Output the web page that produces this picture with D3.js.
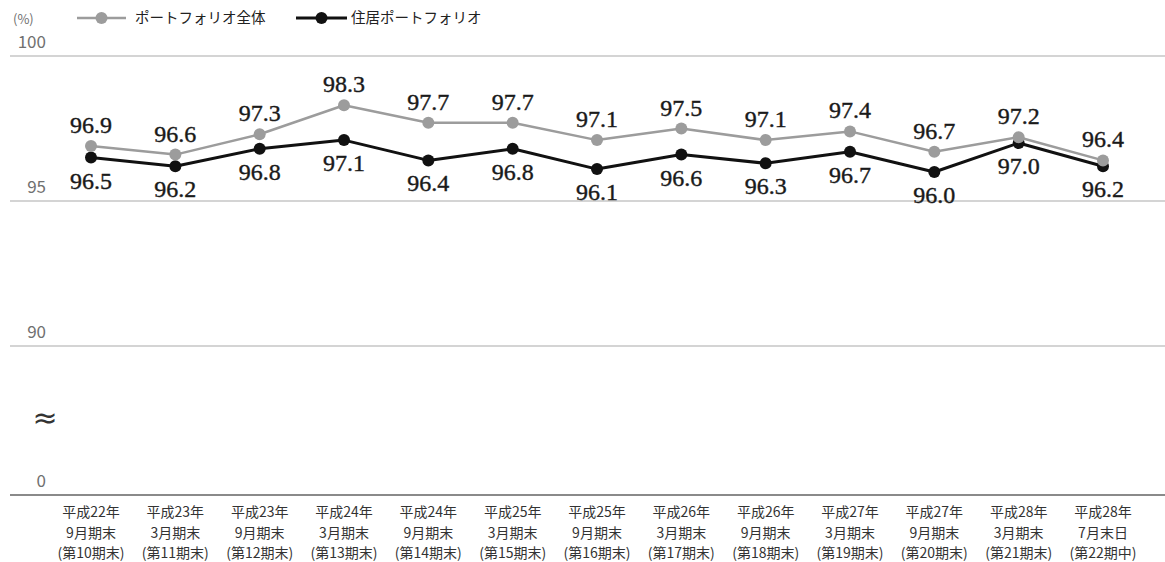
<!DOCTYPE html>
<html>
<head>
<meta charset="utf-8">
<script src="https://cdn.jsdelivr.net/npm/d3@7"></script>
<style>
  html, body { margin: 0; padding: 0; background: #fff; }
  svg { display: block; }
  .val { font-family: "Liberation Serif", "Times New Roman", Tinos, "DejaVu Serif", serif; }
</style>
</head>
<body>
<svg id="chart" width="1165" height="562"></svg>
<script>
// Occupancy rate by fiscal period (%)
const periodYear = ["平成22年","平成23年","平成23年","平成24年","平成24年","平成25年","平成25年","平成26年","平成26年","平成27年","平成27年","平成28年","平成28年"];
const periodMonth = ["9月期末","3月期末","9月期末","3月期末","9月期末","3月期末","9月期末","3月期末","9月期末","3月期末","9月期末","3月期末","7月末日"];
const periodTerm = ["(第10期末)","(第11期末)","(第12期末)","(第13期末)","(第14期末)","(第15期末)","(第16期末)","(第17期末)","(第18期末)","(第19期末)","(第20期末)","(第21期末)","(第22期中)"];
const portfolioAll = [96.9, 96.6, 97.3, 98.3, 97.7, 97.7, 97.1, 97.5, 97.1, 97.4, 96.7, 97.2, 96.4];
const portfolioResidential = [96.5, 96.2, 96.8, 97.1, 96.4, 96.8, 96.1, 96.6, 96.3, 96.7, 96.0, 97.0, 96.2];
const yTicks = [0, 90, 95, 100];
const seriesNames = ["ポートフォリオ全体", "住居ポートフォリオ"];

const svg = d3.select("#chart");
const sans = "'Noto Sans CJK JP', 'Noto Sans', sans-serif";

const idx = d3.range(periodYear.length);
const x = d3.scalePoint().domain(idx).range([91, 1103]).padding(0);
// broken axis: 0 .. (gap) .. 90 .. 100
const y = d3.scaleLinear().domain([0, 90, 100]).range([495, 346, 56]);

// gridlines
svg.append("g").selectAll("line").data(yTicks.filter(d => d > 0)).join("line")
  .attr("x1", 10).attr("x2", 1165)
  .attr("y1", d => y(d)).attr("y2", d => y(d))
  .attr("stroke", "#d4d4d4").attr("stroke-width", 2);
// baseline
svg.append("line").attr("x1", 10).attr("x2", 1165)
  .attr("y1", y(0)).attr("y2", y(0))
  .attr("stroke", "#8a8a8a").attr("stroke-width", 2);

// tick labels
svg.append("g").selectAll("text").data(yTicks).join("text")
  .attr("x", 46).attr("y", d => y(d) - 8)
  .attr("text-anchor", "end")
  .attr("font-family", sans).attr("font-size", 17)
  .attr("fill", "#707070")
  .text(d => d);

svg.append("text").attr("x", 13).attr("y", 24)
  .attr("font-family", sans).attr("font-size", 13).attr("fill", "#707070")
  .text("(%)");

// axis break mark
svg.append("text").attr("x", 45).attr("y", 428)
  .attr("text-anchor", "middle")
  .attr("font-family", "'DejaVu Sans', sans-serif").attr("font-size", 30)
  .attr("fill", "#333").text("≈");

// category labels
const cat = svg.append("g").selectAll("text").data(idx).join("text")
  .attr("x", d => x(d))
  .attr("text-anchor", "middle")
  .attr("font-family", sans).attr("font-size", 14)
  .attr("fill", "#333");
cat.append("tspan").attr("x", d => x(d)).attr("y", 517).text(d => periodYear[d]);
cat.append("tspan").attr("x", d => x(d)).attr("y", 538).text(d => periodMonth[d]);
cat.append("tspan").attr("x", d => x(d)).attr("y", 558).text(d => periodTerm[d]);

const series = [
  { name: seriesNames[0], values: portfolioAll, color: "#9c9c9c", width: 2.5, labelDy: -13 },
  { name: seriesNames[1], values: portfolioResidential, color: "#111", width: 3, labelDy: 31 }
];

const line = d3.line().x((d, i) => x(i)).y(d => y(d));

// residential drawn first, overall on top
[series[1], series[0]].forEach(s => {
  svg.append("path").datum(s.values)
    .attr("d", line).attr("fill", "none")
    .attr("stroke", s.color).attr("stroke-width", s.width)
    .attr("stroke-linejoin", "round");
  svg.append("g").selectAll("circle").data(s.values).join("circle")
    .attr("cx", (d, i) => x(i)).attr("cy", d => y(d)).attr("r", 6)
    .attr("fill", s.color);
});

series.forEach(s => {
  svg.append("g").selectAll("text").data(s.values).join("text")
    .attr("class", "val")
    .attr("x", (d, i) => x(i)).attr("y", d => y(d) + s.labelDy)
    .attr("text-anchor", "middle")
    .attr("font-size", 24)
    .attr("fill", "#1a1a1a")
    .attr("stroke", "#1a1a1a").attr("stroke-width", 0.4)
    .text(d => d.toFixed(1));
});

// legend
const legend = svg.append("g");
const legendItems = [
  { name: seriesNames[0], color: series[0].color, x0: 77, x1: 126, tx: 135 },
  { name: seriesNames[1], color: series[1].color, x0: 296, x1: 347, tx: 351 }
];
legendItems.forEach((it, k) => {
  legend.append("line").attr("x1", it.x0).attr("x2", it.x1).attr("y1", 18).attr("y2", 18)
    .attr("stroke", it.color).attr("stroke-width", k === 0 ? 2.5 : 3);
  legend.append("circle").attr("cx", (it.x0 + it.x1) / 2).attr("cy", 18).attr("r", 6)
    .attr("fill", it.color);
  legend.append("text").attr("x", it.tx).attr("y", 23)
    .attr("font-family", sans).attr("font-size", 14.5).attr("fill", "#222")
    .text(it.name);
});
</script>
</body>
</html>
